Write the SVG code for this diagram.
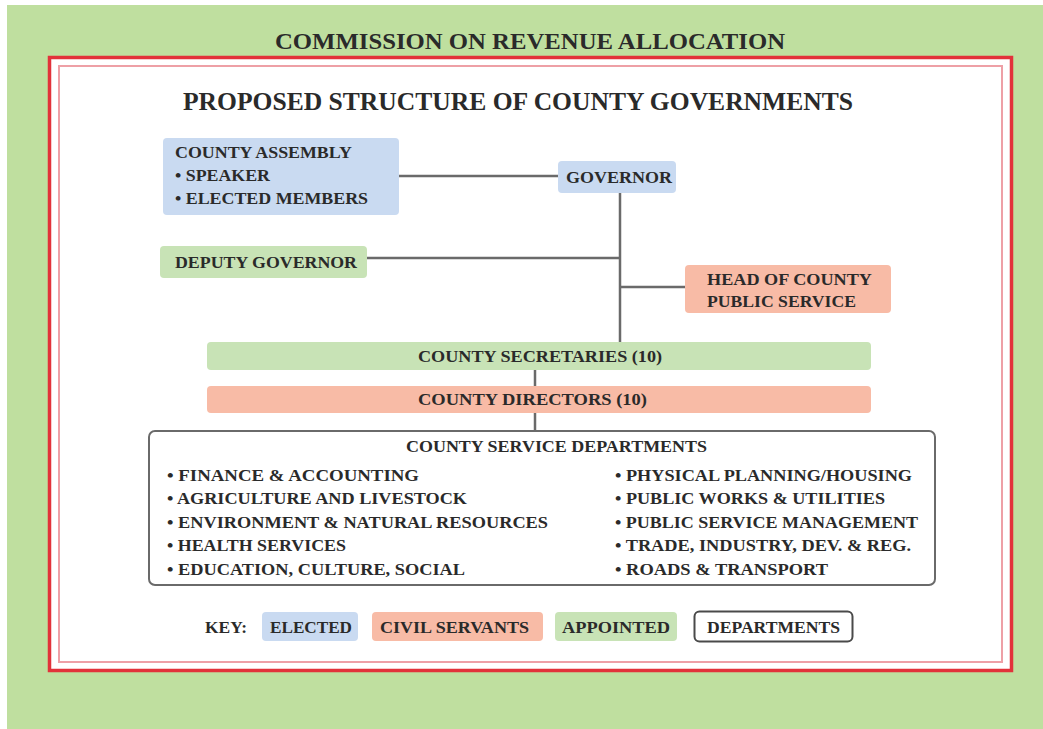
<svg xmlns="http://www.w3.org/2000/svg" width="1043" height="729" viewBox="0 0 1043 729">
<style>
text{font-family:"Liberation Serif","DejaVu Serif",serif;font-weight:bold;fill:#2a2a2a;font-size:17px}
.c{text-anchor:middle}
.blue{fill:#c9daf1}
.green{fill:#c8e3b6}
.sal{fill:#f8bba6}
.con line{stroke:#6a6a6a;stroke-width:2.5}
.t{font-size:24px}
</style>
<rect x="0" y="0" width="1043" height="729" fill="#ffffff"/>
<rect x="7" y="5" width="1036" height="724" fill="#bfdf9f"/>
<text class="t c" x="530" y="49" textLength="510" lengthAdjust="spacingAndGlyphs">COMMISSION ON REVENUE ALLOCATION</text>
<rect x="49.5" y="57.5" width="962" height="613" fill="#ffffff" stroke="#e2323a" stroke-width="3.5"/>
<rect x="59" y="66" width="943" height="596" fill="none" stroke="#eea0a6" stroke-width="2"/>
<text class="t c" x="518" y="110" textLength="670" lengthAdjust="spacingAndGlyphs" style="font-size:25px">PROPOSED STRUCTURE OF COUNTY GOVERNMENTS</text>

<g class="con">
<line x1="399" y1="176" x2="558" y2="176"/>
<line x1="620" y1="193" x2="620" y2="342"/>
<line x1="367" y1="258" x2="620" y2="258"/>
<line x1="620" y1="287" x2="685" y2="287"/>
<line x1="535" y1="370" x2="535" y2="386"/>
<line x1="535" y1="413" x2="535" y2="431"/>
</g>

<g id="county-assembly">
<rect class="blue" x="163" y="138" width="236" height="77" rx="4"/>
<text x="175" y="158" textLength="177" lengthAdjust="spacingAndGlyphs">COUNTY ASSEMBLY</text>
<text x="175" y="181" textLength="95" lengthAdjust="spacingAndGlyphs">• SPEAKER</text>
<text x="175" y="204" textLength="193" lengthAdjust="spacingAndGlyphs">• ELECTED MEMBERS</text>
</g>
<g id="governor">
<rect class="blue" x="558" y="161" width="118" height="32" rx="4"/>
<text x="566" y="183" textLength="106" lengthAdjust="spacingAndGlyphs">GOVERNOR</text>
</g>
<g id="deputy-governor">
<rect class="green" x="160" y="246" width="207" height="32" rx="4"/>
<text x="175" y="268" textLength="182" lengthAdjust="spacingAndGlyphs">DEPUTY GOVERNOR</text>
</g>
<g id="head-public-service">
<rect class="sal" x="685" y="265" width="206" height="48" rx="4"/>
<text x="707" y="285" textLength="165" lengthAdjust="spacingAndGlyphs">HEAD OF COUNTY</text>
<text x="707" y="307" textLength="149" lengthAdjust="spacingAndGlyphs">PUBLIC SERVICE</text>
</g>
<g id="county-secretaries">
<rect class="green" x="207" y="342" width="664" height="28" rx="4"/>
<text x="418" y="362" textLength="244" lengthAdjust="spacingAndGlyphs">COUNTY SECRETARIES (10)</text>
</g>
<g id="county-directors">
<rect class="sal" x="207" y="386" width="664" height="27" rx="4"/>
<text x="418" y="405" textLength="229" lengthAdjust="spacingAndGlyphs">COUNTY DIRECTORS (10)</text>
</g>
<g id="service-departments">
<rect x="149" y="431" width="786" height="154" rx="6" fill="#ffffff" stroke="#6a6a6a" stroke-width="2"/>
<text x="406" y="452" textLength="301" lengthAdjust="spacingAndGlyphs">COUNTY SERVICE DEPARTMENTS</text>
<text x="167" y="481" textLength="252" lengthAdjust="spacingAndGlyphs">• FINANCE &amp; ACCOUNTING</text>
<text x="167" y="504" textLength="300" lengthAdjust="spacingAndGlyphs">• AGRICULTURE AND LIVESTOCK</text>
<text x="167" y="528" textLength="381" lengthAdjust="spacingAndGlyphs">• ENVIRONMENT &amp; NATURAL RESOURCES</text>
<text x="167" y="551" textLength="179" lengthAdjust="spacingAndGlyphs">• HEALTH SERVICES</text>
<text x="167" y="575" textLength="298" lengthAdjust="spacingAndGlyphs">• EDUCATION, CULTURE, SOCIAL</text>
<text x="615" y="481" textLength="297" lengthAdjust="spacingAndGlyphs">• PHYSICAL PLANNING/HOUSING</text>
<text x="615" y="504" textLength="270" lengthAdjust="spacingAndGlyphs">• PUBLIC WORKS &amp; UTILITIES</text>
<text x="615" y="528" textLength="303" lengthAdjust="spacingAndGlyphs">• PUBLIC SERVICE MANAGEMENT</text>
<text x="615" y="551" textLength="296" lengthAdjust="spacingAndGlyphs">• TRADE, INDUSTRY, DEV. &amp; REG.</text>
<text x="615" y="575" textLength="213" lengthAdjust="spacingAndGlyphs">• ROADS &amp; TRANSPORT</text>
</g>
<g id="key">
<text x="205" y="633" textLength="42" lengthAdjust="spacingAndGlyphs">KEY:</text>
<rect class="blue" x="262" y="612" width="96" height="29" rx="4"/>
<text x="270" y="633" textLength="82" lengthAdjust="spacingAndGlyphs">ELECTED</text>
<rect class="sal" x="372" y="612" width="171" height="29" rx="4"/>
<text x="380" y="633" textLength="149" lengthAdjust="spacingAndGlyphs">CIVIL SERVANTS</text>
<rect class="green" x="555" y="612" width="122" height="29" rx="4"/>
<text x="562" y="633" textLength="108" lengthAdjust="spacingAndGlyphs">APPOINTED</text>
<rect x="694.5" y="611.5" width="158" height="30" rx="5" fill="#ffffff" stroke="#4a4a4a" stroke-width="2"/>
<text x="707" y="633" textLength="133" lengthAdjust="spacingAndGlyphs">DEPARTMENTS</text>
</g>
</svg>
